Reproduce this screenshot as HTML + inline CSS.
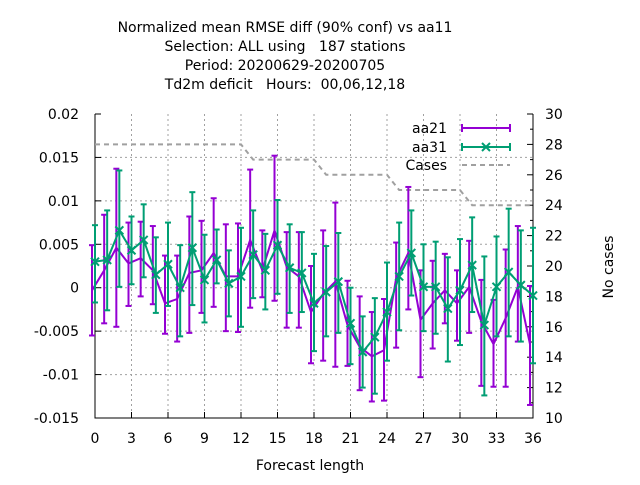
<!DOCTYPE html>
<html><head><meta charset="utf-8"><style>
body{margin:0;background:#fff;}
text{font-family:"DejaVu Sans","Liberation Sans",sans-serif;}
</style></head><body>
<svg id="c" width="640" height="480" xmlns="http://www.w3.org/2000/svg"></svg>
<script>
const hours=[0,1,2,3,4,5,6,7,8,9,10,11,12,13,14,15,16,17,18,19,20,21,22,23,24,25,26,27,28,29,30,31,32,33,34,35,36];
const aa21Mean=[-0.0003,0.002,0.0046,0.0028,0.0034,0.002,-0.0018,-0.0013,0.0017,0.002,0.004,0.0013,0.0013,0.0055,0.002,0.0066,0.0024,0.0013,-0.0028,-0.0007,0.0007,-0.0043,-0.0068,-0.0079,-0.0072,0.0011,0.004,-0.0037,-0.0018,-0.0003,-0.0018,0.0001,-0.0039,-0.0065,-0.0035,0.0001,-0.0065];
const aa21Lo=[-0.0055,-0.0041,-0.0045,-0.0021,-0.001,-0.0019,-0.0053,-0.0062,-0.0052,-0.0029,-0.0022,-0.005,-0.0051,-0.0023,-0.0011,-0.0015,-0.0046,-0.0046,-0.0087,-0.0084,-0.0091,-0.009,-0.0118,-0.0131,-0.013,-0.0069,-0.0025,-0.0103,-0.007,-0.0041,-0.0061,-0.0052,-0.0113,-0.0114,-0.0114,-0.0062,-0.0135];
const aa21Hi=[0.0049,0.0084,0.0137,0.0075,0.0076,0.0071,0.0037,0.0037,0.0082,0.0077,0.0103,0.0073,0.0074,0.0136,0.0066,0.0152,0.0064,0.0064,0.0025,0.0066,0.0098,0.0008,-0.001,-0.0028,-0.0013,0.0052,0.0116,0.002,0.0031,0.0039,0.002,0.0054,0.0009,-0.0014,0.0044,0.0071,0.0002];
const aa31Mean=[0.003,0.0032,0.0066,0.0043,0.0055,0.0015,0.0027,0.0,0.0046,0.0009,0.0032,0.0005,0.0013,0.0038,0.002,0.0049,0.0023,0.0017,-0.0018,-0.0005,0.0007,-0.0041,-0.0074,-0.0057,-0.0028,0.0013,0.004,0.0001,0.0001,-0.0024,-0.0003,0.0026,-0.0043,0.0001,0.0018,0.0003,-0.0009];
const aa31Lo=[-0.0017,-0.0026,0.0001,0.0004,0.0012,-0.0029,-0.0021,-0.0056,-0.002,-0.004,0.0005,-0.0033,-0.0045,-0.0012,-0.0025,-0.0007,-0.0029,-0.0028,-0.0073,-0.0056,-0.0052,-0.0088,-0.0115,-0.0122,-0.0084,-0.0049,-0.0009,-0.005,-0.0053,-0.0085,-0.0066,-0.0028,-0.0124,-0.0056,-0.0056,-0.0062,-0.0087];
const aa31Hi=[0.0072,0.0089,0.0135,0.0082,0.0096,0.0058,0.0075,0.0049,0.011,0.0061,0.0067,0.0043,0.0069,0.0089,0.0062,0.0101,0.0073,0.0064,0.0039,0.0048,0.0063,0.0,-0.0033,-0.0012,0.0029,0.0075,0.0089,0.005,0.0053,0.0035,0.0056,0.0081,0.0036,0.0059,0.0091,0.0066,0.0069];
const cases=[28,28,28,28,28,28,28,28,28,28,28,28,28,27,27,27,27,27,27,26,26,26,26,26,26,25,25,25,25,25,25,24,24,24,24,24,24];
const yTicks=[0.02,0.015,0.01,0.005,0,-0.005,-0.01,-0.015];
const yTickLabels=["0.02","0.015","0.01","0.005","0","-0.005","-0.01","-0.015"];
const y2Ticks=[30,28,26,24,22,20,18,16,14,12,10];
const xTicks=[0,3,6,9,12,15,18,21,24,27,30,33,36];

const NS="http://www.w3.org/2000/svg";
const svg=document.getElementById('c');
const L=95,R=533,T=114,B=418;
const X=h=>L+(h/36)*(R-L);
const Y=v=>T+(0.02-v)/0.035*(B-T);
const Y2=c=>T+(30-c)/20*(B-T);
function mk(tag,a,parent){const e=document.createElementNS(NS,tag);for(const k in a)e.setAttribute(k,a[k]);(parent||svg).appendChild(e);return e;}

yTicks.forEach((v,i)=>{
  if(i>0){const g=mk('line',{x1:L,x2:R,y1:Y(v),y2:Y(v),stroke:'#a0a0a0','stroke-dasharray':'2,3','stroke-width':1});
  
  }
  mk('line',{x1:L,x2:L+6,y1:Y(v),y2:Y(v),stroke:'#000'});
  const t=mk('text',{x:79,y:Y(v)+5,'text-anchor':'end','font-size':14});t.textContent=yTickLabels[i];
  
  
});
xTicks.forEach(h=>{
  if(h>0&&h<36){const g=mk('line',{x1:X(h),x2:X(h),y1:T,y2:B,stroke:'#a0a0a0','stroke-dasharray':'2,3','stroke-width':1});
  
  }
  mk('line',{x1:X(h),x2:X(h),y1:B,y2:B-6,stroke:'#000'});
  const t=mk('text',{x:X(h),y:443,'text-anchor':'middle','font-size':14});t.textContent=h;
  
  
});
for(let c=10;c<=30;c++){mk('line',{x1:R,x2:R-(c%2?3:6),y1:Y2(c),y2:Y2(c),stroke:'#000'});}
y2Ticks.forEach(c=>{const t=mk('text',{x:545,y:Y2(c)+5,'font-size':14});t.textContent=c;
  
  });

mk('path',{d:`M${L},${T}V${B}H${R}V${T}`,fill:'none',stroke:'#000','stroke-width':1});

const cp=mk('polyline',{points:hours.map((h,i)=>X(h)+','+Y2(cases[i])).join(' '),fill:'none',stroke:'#a0a0a0','stroke-width':2,'stroke-dasharray':'5,4'});



function series(mean,lo,hi,col,dx,name,cross){
  const g=mk('g',{});
  
  
  hours.forEach((h,i)=>{
    const x=X(h)+dx;
    mk('line',{x1:x,x2:x,y1:Y(lo[i]),y2:Y(hi[i]),stroke:col,'stroke-width':2},g);
    mk('line',{x1:x-3,x2:x+3,y1:Y(lo[i]),y2:Y(lo[i]),stroke:col,'stroke-width':2},g);
    mk('line',{x1:x-3,x2:x+3,y1:Y(hi[i]),y2:Y(hi[i]),stroke:col,'stroke-width':2},g);
    if(cross){const y=Y(mean[i]);mk('path',{d:`M${x-4},${y-4}L${x+4},${y+4}M${x-4},${y+4}L${x+4},${y-4}`,stroke:col,'stroke-width':2},g);}
  });
  mk('polyline',{points:hours.map((h,i)=>(X(h)+dx)+','+Y(mean[i])).join(' '),fill:'none',stroke:col,'stroke-width':2},g);
}
series(aa21Mean,aa21Lo,aa21Hi,'#9400d3',-3,'aa21',false);
series(aa31Mean,aa31Lo,aa31Hi,'#009e73',0,'aa31',true);

function leg(label,y,col,type){
  const g=mk('g',{});
  
  
  const t=mk('text',{x:447,y:y+5,'text-anchor':'end','font-size':14},g);t.textContent=label;
  if(type==='dash'){mk('line',{x1:462,x2:510,y1:y,y2:y,stroke:col,'stroke-width':2,'stroke-dasharray':'5,4'},g);}
  else{mk('line',{x1:462,x2:510,y1:y,y2:y,stroke:col,'stroke-width':2},g);
    mk('line',{x1:462,x2:462,y1:y-4,y2:y+4,stroke:col,'stroke-width':2},g);
    mk('line',{x1:510,x2:510,y1:y-4,y2:y+4,stroke:col,'stroke-width':2},g);
    if(type==='x')mk('path',{d:`M482,${y-4}L490,${y+4}M482,${y+4}L490,${y-4}`,stroke:col,'stroke-width':2},g);}
}
leg('aa21',128,'#9400d3','bar');
leg('aa31',147,'#009e73','x');
leg('Cases',165,'#a0a0a0','dash');
</script>
<svg width="640" height="480" style="position:absolute;left:0;top:0" xmlns="http://www.w3.org/2000/svg">
<g font-size="14" text-anchor="middle" font-family="DejaVu Sans, sans-serif">
<text x="285" y="32" xml:space="preserve">Normalized mean RMSE diff (90% conf) vs aa11</text>
<text x="285" y="51" xml:space="preserve">Selection: ALL using   187 stations</text>
<text x="285" y="70" xml:space="preserve">Period: 20200629-20200705</text>
<text x="285" y="89" xml:space="preserve">Td2m deficit   Hours:  00,06,12,18</text>
</g>
<text x="310" y="470" text-anchor="middle" font-size="14" font-family="DejaVu Sans, sans-serif">Forecast length</text>
<text x="0" y="0" transform="translate(613,267) rotate(-90)" text-anchor="middle" font-size="14" font-family="DejaVu Sans, sans-serif">No cases</text>
</svg>
</body></html>
